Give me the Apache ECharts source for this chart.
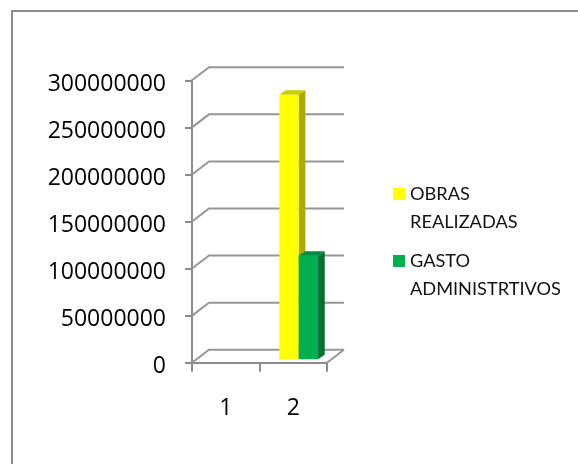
<!DOCTYPE html>
<html><head><meta charset="utf-8">
<style>html,body{margin:0;padding:0;background:#fff}#c{width:578px;height:464px}</style>
<script src="https://cdn.jsdelivr.net/npm/echarts@6/dist/echarts.min.js"></script>
</head><body><div id="c"></div><script>
const categories = ['1', '2'];
const obrasRealizadas = [null, 281000000];
const gastoAdministrativos = [null, 110000000];
const yTicks = [0, 50000000, 100000000, 150000000, 200000000, 250000000, 300000000];
const obrasName = 'OBRAS\nREALIZADAS';
const gastoName = 'GASTO\nADMINISTRTIVOS';

const wallDx = 17, wallDy = -13;
const barDx = 5.4, barDy = -3.4, depthDx = 6.7, depthDy = -4.5, barRatio = 0.2875;
const gridColor = '#969696', axisColor = '#8C8C8C';
const tickFont = 'Open Sans', legendFont = 'Lato';

function wallLines(params, api) {
  const v = api.value(0);
  const p = api.coord([0, v]);
  const cs = params.coordSys;
  const x0 = cs.x, x1 = cs.x + cs.width, y = p[1];
  const style = { stroke: gridColor, lineWidth: 2, fill: null };
  const children = [{ type: 'polyline', shape: { points: [[x0, y], [x0 + wallDx, y + wallDy], [x1 + wallDx, y + wallDy]] }, style }];
  if (v === 0) children.push({ type: 'line', shape: { x1: x1, y1: y, x2: x1 + wallDx, y2: y + wallDy }, style });
  return { type: 'group', children };
}

function bar3d(slot, front, top, side) {
  return function (params, api) {
    const val = api.value(1);
    if (isNaN(val)) return null;
    const band = api.size([1, 0])[0];
    const w = band * barRatio;
    const c = api.coord([api.value(0), val]);
    const b = api.coord([api.value(0), 0]);
    const xl = c[0] + barDx + (slot - 1) * w, xr = xl + w;
    const yt = c[1] + barDy, yb = b[1] + barDy;
    return { type: 'group', children: [
      { type: 'polygon', shape: { points: [[xr, yt], [xr + depthDx, yt + depthDy], [xr + depthDx, yb + depthDy], [xr, yb]] }, style: { fill: side } },
      { type: 'polygon', shape: { points: [[xl, yt], [xl + depthDx, yt + depthDy], [xr + depthDx, yt + depthDy], [xr, yt]] }, style: { fill: top } },
      { type: 'rect', shape: { x: xl, y: yt, width: w, height: yb - yt }, style: { fill: front } }
    ] };
  };
}

const chart = echarts.init(document.getElementById('c'), null, { renderer: 'canvas' });
chart.setOption({
  animation: false,
  backgroundColor: '#fff',
  graphic: [
    { type: 'polyline', silent: true, z: -1, shape: { points: [[12, 470], [12, 11], [585, 11]] }, style: { stroke: '#8C8C8C', lineWidth: 2, fill: null } }
  ],
  grid: { left: 192, right: 251, top: 80.3, bottom: 101.3 },
  legend: {
    left: 393, top: 180, padding: 0, orient: 'vertical', itemGap: 11,
    itemWidth: 12, itemHeight: 40,
    icon: 'path://M0 0H12V12H0Z M0 40H0Z',
    data: [obrasName, gastoName],
    selectedMode: false,
    textStyle: { fontFamily: legendFont, fontSize: 18.2, color: '#111', lineHeight: 28 }
  },
  xAxis: {
    type: 'category', data: categories,
    axisLine: { lineStyle: { color: axisColor, width: 2 } },
    axisTick: { show: true, length: 9, alignWithLabel: false, lineStyle: { color: axisColor, width: 2 } },
    axisLabel: { margin: 34, fontFamily: tickFont, fontSize: 23, color: '#000' },
    splitLine: { show: false }
  },
  yAxis: {
    type: 'value', min: 0, max: 300000000, interval: 50000000,
    axisLine: { show: true, lineStyle: { color: axisColor, width: 2 } },
    axisTick: { show: true, length: 7, lineStyle: { color: axisColor, width: 2 } },
    axisLabel: { margin: 26, fontFamily: tickFont, fontSize: 23, color: '#000', verticalAlign: 'top', lineHeight: 8, formatter: v => String(v) },
    splitLine: { show: false }
  },
  series: [
    { type: 'custom', name: 'walls', silent: true, z: 1, clip: false, data: yTicks.map(v => [v]), encode: { y: 0 }, renderItem: wallLines },
    { type: 'custom', name: obrasName, z: 2, clip: false, itemStyle: { color: '#FFFF00' }, data: categories.map((c, i) => [i, obrasRealizadas[i]]), encode: { x: 0, y: 1 }, renderItem: bar3d(0, '#FFFF00', '#CCCC00', '#AAAA00') },
    { type: 'custom', name: gastoName, z: 3, clip: false, itemStyle: { color: '#00B050' }, data: categories.map((c, i) => [i, gastoAdministrativos[i]]), encode: { x: 0, y: 1 }, renderItem: bar3d(1, '#00B050', '#008C3E', '#007033') }
  ]
});
</script></body></html>
